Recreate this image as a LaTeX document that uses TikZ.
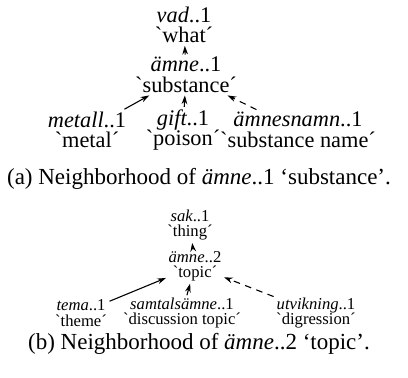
\documentclass[tikz,border=0pt]{standalone}
\usepackage{fontspec}
\setmainfont{Liberation Serif}[Ligatures=TeXOff]
\newcommand{\gl}[1]{`#1´}
\tikzset{
  lexa/.style={inner sep=1pt, align=center, font=\fontsize{10.2}{9.4}\selectfont},
  lexb/.style={inner sep=1pt, align=center, font=\fontsize{7.6}{7}\selectfont},
  capt/.style={inner sep=0pt, font=\fontsize{10.5}{12}\selectfont},
  rel/.style={-{Stealth[length=4pt,width=2.6pt]}, line width=0.5pt},
  relx/.style={rel, dash pattern=on 3pt off 2.5pt}
}
\usetikzlibrary{arrows.meta}
\begin{document}
\begin{tikzpicture}[x=0.4566pt,y=-0.4566pt]
\useasboundingbox (0,0) rectangle (408,377);
%\draw[help lines,step=20] (0,0) grid (408,377);

% (a)
\node[lexa] (vad) at (184,25) {\textit{vad}..1\\\gl{what}};
\node[lexa] (amne1) at (186,75) {\textit{ämne}..1\\\gl{substance}};
\node[lexa] (metall) at (87,130) {\textit{metall}..1\\\gl{metal}};
\node[lexa] (gift) at (183,130) {\textit{gift}..1\\\gl{poison}};
\node[lexa] (namn) at (298,130) {\textit{ämnesnamn}..1\\\gl{substance name}};
\node[capt] (capa) at (199,179) {(a) Neighborhood of \textit{ämne}..1 ‘substance’.};

\draw[rel] (amne1) -- (vad);
\draw[rel] (metall) -- (amne1);
\draw[rel] (gift) -- (amne1);
\draw[relx] (namn) -- (amne1);

% (b)
\node[lexb] (sak) at (190,225) {\textit{sak}..1\\\gl{thing}};
\node[lexb] (amne2) at (195,266) {\textit{ämne}..2\\\gl{topic}};
\node[lexb] (tema) at (81,313) {\textit{tema}..1\\\gl{theme}};
\node[lexb] (samtal) at (182,313) {\textit{samtalsämne}..1\\\gl{discussion topic}};
\node[lexb] (utvik) at (316,313) {\textit{utvikning}..1\\\gl{digression}};
\node[capt] (capb) at (199,344) {(b) Neighborhood of \textit{ämne}..2 ‘topic’.};

\draw[rel] (amne2) -- (sak);
\draw[rel] (tema) -- (amne2);
\draw[rel] (samtal) -- (amne2);
\draw[relx] (utvik) -- (amne2);
\end{tikzpicture}
\end{document}
